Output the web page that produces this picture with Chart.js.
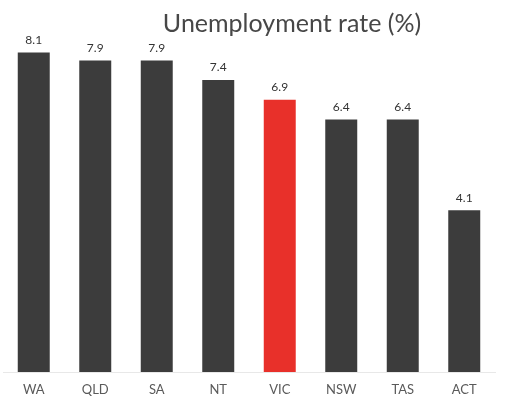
<!DOCTYPE html>
<html>
<head>
<meta charset="utf-8">
<script src="https://cdn.jsdelivr.net/npm/chart.js@4"></script>
<style>
html,body{margin:0;padding:0;background:#fff;}
#wrap{width:528px;height:396px;position:relative;}
</style>
</head>
<body>
<div id="wrap"><canvas id="c" width="528" height="396"></canvas></div>
<script>
const categories = ['WA','QLD','SA','NT','VIC','NSW','TAS','ACT'];
const rates = [8.1, 7.9, 7.9, 7.4, 6.9, 6.4, 6.4, 4.1];
const highlight = 'VIC';
const titleText = 'Unemployment rate (%)';

const DARK = '#3c3c3c';
const RED = '#e8302a';

const titlePlugin = {
  id: 'customTitle',
  afterDraw(chart) {
    const ctx = chart.ctx;
    ctx.save();
    ctx.font = '25px Lato';
    ctx.fillStyle = '#474747';
    ctx.textAlign = 'center';
    ctx.textBaseline = 'middle';
    ctx.fillText(titleText, 292, 24);
    ctx.restore();
  }
};

const valuePlugin = {
  id: 'valueLabels',
  afterDatasetsDraw(chart) {
    const ctx = chart.ctx;
    const meta = chart.getDatasetMeta(0);
    ctx.save();
    ctx.font = '12px Lato';
    ctx.fillStyle = '#333';
    ctx.textAlign = 'center';
    ctx.textBaseline = 'middle';
    meta.data.forEach((el, i) => {
      ctx.fillText(rates[i].toFixed(1), el.x, el.y - 12.5);
    });
    ctx.restore();
  }
};

new Chart(document.getElementById('c'), {
  type: 'bar',
  data: {
    labels: categories,
    datasets: [{
      data: rates,
      backgroundColor: categories.map(c => c === highlight ? RED : DARK),
      borderWidth: 0,
      barPercentage: 0.52,
      categoryPercentage: 1.0
    }]
  },
  options: {
    responsive: false,
    animation: false,
    devicePixelRatio: 1,
    layout: { padding: { left: 3, right: 33, top: 17, bottom: 0 } },
    plugins: { legend: { display: false }, title: { display: false }, tooltip: { enabled: false } },
    scales: {
      x: {
        grid: { display: false },
        border: { display: true, color: '#e8e8e8', width: 1 },
        ticks: { font: { family: 'Lato', size: 13 }, color: '#5a5a5a', padding: 2 },
        afterFit(scale) { scale.height = 24; }
      },
      y: {
        display: false,
        min: 0,
        max: 9
      }
    }
  },
  plugins: [titlePlugin, valuePlugin]
});
</script>
</body>
</html>
